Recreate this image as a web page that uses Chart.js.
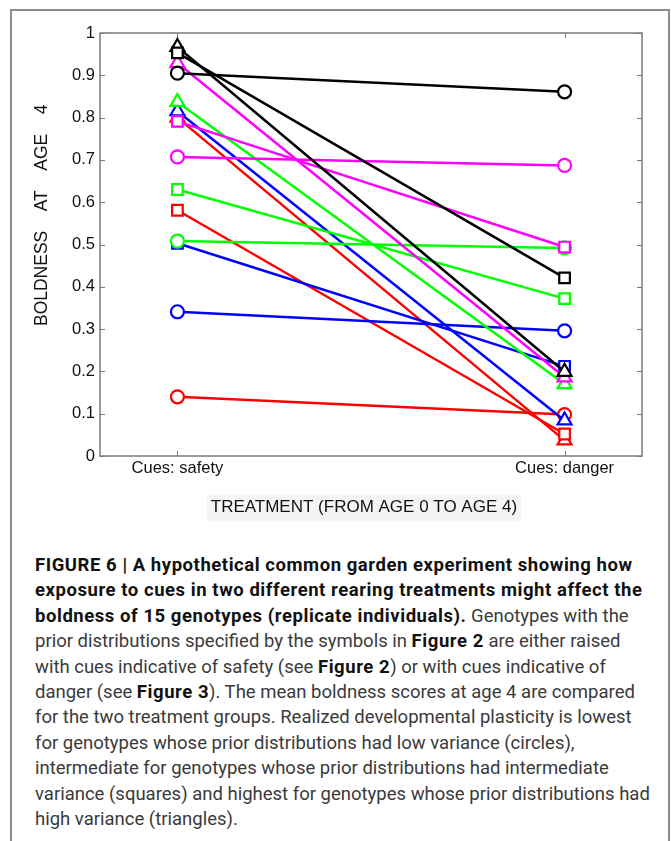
<!DOCTYPE html>
<html>
<head>
<meta charset="utf-8">
<script src="https://cdn.jsdelivr.net/npm/chart.js@4.4.1/dist/chart.umd.min.js"></script>
<style>
  body { margin: 0; background: #fff; width: 671px; height: 841px; overflow: hidden; position: relative; }
  .frame { position: absolute; left: 10px; top: 9px; width: 656px; height: 840px; border: 2px solid #8c8c8c; border-bottom: none; }
  #myChart { position: absolute; left: 0; top: 0; }
  .caption { position: absolute; left: 35px; top: 553px; font-family: Roboto, sans-serif; font-size: 18.5px; line-height: 25.4px; color: #3a3a3a; white-space: nowrap; }
  .caption b { color: #111; font-weight: 700; letter-spacing: 0.55px; }
</style>
</head>
<body>
<div class="frame"></div>
<canvas id="myChart" width="671" height="545"></canvas>
<div class="caption">
  <b>FIGURE 6 | A hypothetical common garden experiment showing how</b><br>
  <b>exposure to cues in two different rearing treatments might affect the</b><br>
  <b>boldness of 15 genotypes (replicate individuals).</b> Genotypes with the<br>
  prior distributions specified by the symbols in <b>Figure 2</b> are either raised<br>
  with cues indicative of safety (see <b>Figure 2</b>) or with cues indicative of<br>
  danger (see <b>Figure 3</b>). The mean boldness scores at age 4 are compared<br>
  for the two treatment groups. Realized developmental plasticity is lowest<br>
  for genotypes whose prior distributions had low variance (circles),<br>
  intermediate for genotypes whose prior distributions had intermediate<br>
  variance (squares) and highest for genotypes whose prior distributions had<br>
  high variance (triangles).
</div>
<script>
// treatments on the x axis
const categories = ['Cues: safety', 'Cues: danger'];

// genotype colours: black, magenta, green, blue, red
const genotypeColors = ['#000000', '#ff00ff', '#00ff00', '#0000ff', '#ff0000'];

// low variance priors (circles)
const circleSafety = [0.905, 0.707, 0.508, 0.341, 0.140];
const circleDanger = [0.861, 0.687, 0.492, 0.296, 0.098];

// intermediate variance priors (squares)
const squareSafety = [0.953, 0.791, 0.630, 0.503, 0.581];
const squareDanger = [0.421, 0.494, 0.372, 0.212, 0.052];

// high variance priors (triangles)
const triangleSafety = [0.967, 0.929, 0.837, 0.815, 0.800];
const triangleDanger = [0.199, 0.186, 0.170, 0.084, 0.037];

const yTickValues = [0, 0.1, 0.2, 0.3, 0.4, 0.5, 0.6, 0.7, 0.8, 0.9, 1];

const fontFamily = '"Liberation Sans", Arial, sans-serif';

// axis titles; the padding spaces nudge them to where the original sits
const xTitle = 'TREATMENT (FROM AGE 0 TO AGE 4)';
const yTitle = 'BOLDNESS    AT    AGE    4';

function makeSet(style, radius, safety, danger, i) {
  return {
    label: style + ' ' + i,
    data: [{ x: 1, y: safety[i] }, { x: 2, y: danger[i] }],
    borderColor: genotypeColors[i],
    backgroundColor: '#ffffff',
    borderWidth: 2.5,
    pointStyle: style,
    pointRadius: radius,
    pointBorderWidth: 2.2,
    pointBorderColor: genotypeColors[i],
    pointBackgroundColor: '#ffffff',
    tension: 0
  };
}

const datasets = [];
for (let i = 0; i < genotypeColors.length; i++) {
  datasets.push(makeSet('rect', 7.5, squareSafety, squareDanger, i));
  datasets.push(makeSet('triangle', 8, triangleSafety, triangleDanger, i));
  datasets.push(makeSet('circle', 6.5, circleSafety, circleDanger, i));
}

// box round the plot with inward ticks, like the original figure
const frameTicks = {
  id: 'frameTicks',
  beforeDraw(chart) {
    const ctx = chart.ctx;
    const xs = chart.scales.x;
    // light background behind the x title
    const f = xs.options.title.font;
    ctx.save();
    ctx.font = f.size + 'px ' + f.family;
    const full = ctx.measureText(xs.options.title.text).width;
    const w = ctx.measureText(xTitle).width;
    const cx = (xs.left + xs.right) / 2 - (full - w) / 2;
    const cy = xs.bottom - xs.options.title.padding.bottom - f.size * 0.6;
    ctx.fillStyle = '#f4f4f4';
    ctx.fillRect(cx - w / 2 - 4, cy - 13, w + 8, 26);
    ctx.restore();
  },
  beforeDatasetsDraw(chart) {
    const ctx = chart.ctx;
    const a = chart.chartArea;
    const xs = chart.scales.x;
    const ys = chart.scales.y;
    const tl = 5;
    ctx.save();
    ctx.strokeStyle = '#7a7a7a';
    ctx.lineWidth = 1.5;
    ctx.strokeRect(a.left, a.top, a.right - a.left, a.bottom - a.top);
    ctx.lineWidth = 1;
    ctx.beginPath();
    yTickValues.forEach(v => {
      const y = Math.round(ys.getPixelForValue(v)) + 0.5;
      ctx.moveTo(a.left, y); ctx.lineTo(a.left + tl, y);
      ctx.moveTo(a.right, y); ctx.lineTo(a.right - tl, y);
    });
    [1, 2].forEach(v => {
      const x = Math.round(xs.getPixelForValue(v)) + 0.5;
      ctx.moveTo(x, a.bottom); ctx.lineTo(x, a.bottom - tl);
      ctx.moveTo(x, a.top); ctx.lineTo(x, a.top + tl);
    });
    ctx.stroke();
    ctx.restore();
  }
};

const config = {
  type: 'line',
  data: { datasets: datasets },
  options: {
    responsive: false,
    animation: false,
    devicePixelRatio: 1,
    layout: { padding: { top: 33, right: 29, bottom: 0, left: 0 } },
    plugins: { legend: { display: false }, tooltip: { enabled: false } },
    scales: {
      x: {
        type: 'linear',
        min: 0.8,
        max: 2.2,
        grid: { display: false, drawTicks: false },
        border: { display: false },
        afterBuildTicks: function(scale) {
          scale.ticks = [{ value: 1 }, { value: 2 }];
        },
        afterFit: function(scale) { scale.height = 89; },
        ticks: {
          padding: 3,
          color: '#111',
          font: { family: fontFamily, size: 16.5 },
          callback: function(v) { return categories[v - 1]; }
        },
        title: {
          display: true,
          text: xTitle + '   ',
          color: '#111',
          font: { family: fontFamily, size: 17 },
          padding: { top: 0, bottom: 27 }
        }
      },
      y: {
        min: 0,
        max: 1,
        grid: { display: false, drawTicks: false },
        border: { display: false },
        afterBuildTicks: function(scale) {
          scale.ticks = yTickValues.map(v => ({ value: v }));
        },
        afterFit: function(scale) { scale.width = 100; },
        ticks: {
          padding: 5,
          color: '#111',
          font: { family: fontFamily, size: 16.5 },
          callback: function(v) { return String(Math.round(v * 10) / 10); }
        },
        title: {
          display: true,
          text: '            ' + yTitle,
          color: '#111',
          font: { family: fontFamily, size: 17.5 },
          padding: { top: 32, bottom: 0 }
        }
      }
    }
  },
  plugins: [frameTicks]
};

var myChart = new Chart(document.getElementById('myChart'), config);
</script>
</body>
</html>
